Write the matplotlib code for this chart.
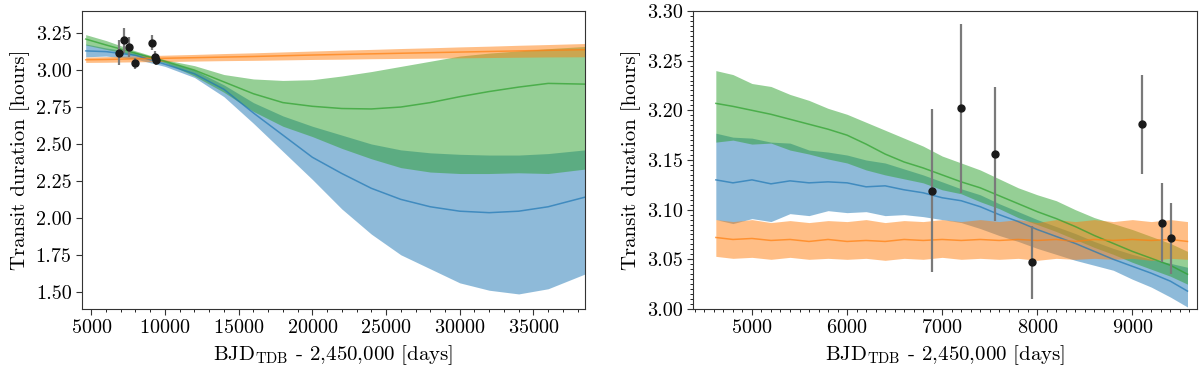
import matplotlib
matplotlib.use('Agg')
import matplotlib.pyplot as plt
from matplotlib.ticker import MultipleLocator

plt.rcParams['font.family'] = 'serif'
plt.rcParams['font.serif'] = ['cmr10']
plt.rcParams['mathtext.fontset'] = 'cm'
plt.rcParams['axes.formatter.use_mathtext'] = True

# observed transit durations
obs_t = [6895, 7200, 7560, 7950, 9105, 9316, 9410]
obs_d = [3.119, 3.202, 3.156, 3.047, 3.186, 3.087, 3.071]
obs_err = [0.082, 0.085, 0.067, 0.037, 0.050, 0.040, 0.036]

# long-term model predictions (left panel)
t_long = [4620, 6000, 8000, 10000, 12000, 14000, 16000, 18000, 20000,
          22000, 24000, 26000, 28000, 30000, 32000, 34000, 36000, 38500]
blue_long = [3.130, 3.125, 3.100, 3.040, 2.975, 2.870, 2.710, 2.560, 2.410,
             2.300, 2.200, 2.125, 2.075, 2.045, 2.035, 2.045, 2.075, 2.140]
blue_long_hi = [3.177, 3.150, 3.120, 3.060, 3.000, 2.900, 2.780, 2.690, 2.620,
                2.560, 2.500, 2.460, 2.440, 2.430, 2.425, 2.425, 2.435, 2.460]
blue_long_lo = [3.090, 3.095, 3.075, 3.025, 2.950, 2.820, 2.640, 2.450, 2.260,
                2.060, 1.890, 1.750, 1.655, 1.560, 1.510, 1.485, 1.520, 1.620]
green_long = [3.210, 3.170, 3.115, 3.060, 3.000, 2.920, 2.840, 2.780, 2.755,
              2.740, 2.737, 2.750, 2.780, 2.820, 2.855, 2.885, 2.910, 2.905]
green_long_hi = [3.240, 3.200, 3.130, 3.070, 3.030, 2.970, 2.940, 2.930, 2.935,
                 2.960, 2.990, 3.025, 3.060, 3.095, 3.115, 3.130, 3.145, 3.160]
green_long_lo = [3.170, 3.140, 3.100, 3.050, 2.960, 2.850, 2.720, 2.620, 2.550,
                 2.470, 2.400, 2.340, 2.310, 2.300, 2.300, 2.305, 2.300, 2.330]
orange_long = [3.070, 3.072, 3.076, 3.080, 3.084, 3.088, 3.092, 3.097, 3.102,
               3.106, 3.110, 3.114, 3.118, 3.122, 3.126, 3.130, 3.134, 3.138]
orange_long_hi = [3.088, 3.091, 3.096, 3.101, 3.106, 3.112, 3.117, 3.123, 3.129,
                  3.135, 3.140, 3.146, 3.151, 3.157, 3.162, 3.168, 3.173, 3.180]
orange_long_lo = [3.052, 3.053, 3.056, 3.058, 3.061, 3.064, 3.066, 3.069, 3.072,
                  3.074, 3.077, 3.079, 3.081, 3.083, 3.085, 3.087, 3.089, 3.090]

# zoom on the observed window (right panel)
t_short = [4620, 4800, 5000, 5200, 5400, 5600, 5800, 6000, 6200, 6400, 6600,
           6800, 7000, 7200, 7400, 7600, 7800, 8000, 8200, 8400, 8600, 8800,
           9000, 9200, 9400, 9580]
green_short = [3.207, 3.204, 3.200, 3.196, 3.191, 3.186, 3.181, 3.175, 3.166,
               3.156, 3.148, 3.142, 3.135, 3.128, 3.122, 3.114, 3.106, 3.098,
               3.091, 3.083, 3.074, 3.066, 3.058, 3.051, 3.044, 3.035]
green_short_hi = [3.240, 3.236, 3.227, 3.224, 3.216, 3.210, 3.202, 3.196, 3.188,
                  3.180, 3.172, 3.164, 3.154, 3.147, 3.140, 3.131, 3.122, 3.115,
                  3.109, 3.100, 3.092, 3.086, 3.080, 3.073, 3.066, 3.058]
green_short_lo = [3.168, 3.170, 3.166, 3.167, 3.160, 3.156, 3.151, 3.147, 3.140,
                  3.135, 3.131, 3.127, 3.120, 3.116, 3.108, 3.101, 3.092, 3.085,
                  3.078, 3.070, 3.062, 3.055, 3.047, 3.040, 3.033, 3.025]
blue_short = [3.130, 3.127, 3.130, 3.126, 3.129, 3.127, 3.128, 3.127, 3.123,
              3.124, 3.120, 3.117, 3.112, 3.109, 3.103, 3.095, 3.088, 3.080,
              3.073, 3.066, 3.058, 3.050, 3.043, 3.036, 3.028, 3.018]
blue_short_hi = [3.177, 3.173, 3.172, 3.168, 3.167, 3.160, 3.158, 3.155, 3.150,
                 3.147, 3.141, 3.135, 3.128, 3.121, 3.115, 3.106, 3.098, 3.090,
                 3.083, 3.076, 3.068, 3.061, 3.055, 3.050, 3.046, 3.042]
blue_short_lo = [3.090, 3.086, 3.091, 3.088, 3.096, 3.094, 3.099, 3.097, 3.098,
                 3.094, 3.095, 3.093, 3.090, 3.087, 3.081, 3.074, 3.068, 3.061,
                 3.055, 3.049, 3.044, 3.039, 3.030, 3.022, 3.012, 3.002]
orange_short = [3.072, 3.070, 3.071, 3.069, 3.070, 3.068, 3.070, 3.068, 3.069,
                3.068, 3.070, 3.069, 3.070, 3.069, 3.070, 3.069, 3.070, 3.069,
                3.070, 3.068, 3.070, 3.069, 3.070, 3.069, 3.070, 3.068]
orange_short_hi = [3.090, 3.088, 3.090, 3.087, 3.089, 3.087, 3.089, 3.088, 3.090,
                   3.087, 3.089, 3.088, 3.090, 3.088, 3.090, 3.088, 3.090, 3.087,
                   3.090, 3.088, 3.090, 3.088, 3.090, 3.088, 3.090, 3.088]
orange_short_lo = [3.053, 3.051, 3.052, 3.050, 3.052, 3.050, 3.051, 3.050, 3.051,
                   3.049, 3.051, 3.050, 3.052, 3.050, 3.051, 3.050, 3.051, 3.049,
                   3.051, 3.050, 3.051, 3.050, 3.051, 3.049, 3.051, 3.050]


def draw_models(ax, t, models):
    # blue first, then green, orange on top
    for mid, lo, hi, c in models:
        ax.fill_between(t, lo, hi, color=c, alpha=0.5, lw=0)
        ax.plot(t, mid, color=c, lw=1.1, alpha=0.7)
    ax.errorbar(obs_t, obs_d, yerr=obs_err, fmt='o', color='#1a1a1a',
                ecolor='#7a7a7a', elinewidth=1.6, markersize=5, zorder=5)


fig, (ax1, ax2) = plt.subplots(1, 2, figsize=(12, 3.7), dpi=100)

draw_models(ax1, t_long, [
    (blue_long, blue_long_lo, blue_long_hi, 'C0'),
    (green_long, green_long_lo, green_long_hi, 'C2'),
    (orange_long, orange_long_lo, orange_long_hi, 'C1'),
])
draw_models(ax2, t_short, [
    (blue_short, blue_short_lo, blue_short_hi, 'C0'),
    (green_short, green_short_lo, green_short_hi, 'C2'),
    (orange_short, orange_short_lo, orange_short_hi, 'C1'),
])

ax1.set_xlim(4370, 38500)
ax1.set_ylim(1.383, 3.40)
ax1.xaxis.set_major_locator(MultipleLocator(5000))
ax1.xaxis.set_minor_locator(MultipleLocator(1000))
ax1.yaxis.set_major_locator(MultipleLocator(0.25))

ax2.set_xlim(4380, 9680)
ax2.set_ylim(3.0, 3.3)
ax2.xaxis.set_major_locator(MultipleLocator(1000))
ax2.xaxis.set_minor_locator(MultipleLocator(100))
ax2.yaxis.set_major_locator(MultipleLocator(0.05))
ax2.yaxis.set_minor_locator(MultipleLocator(0.005))

for ax in (ax1, ax2):
    ax.set_xlabel(r'BJD$_{\mathrm{TDB}}$ - 2,450,000 [days]', fontsize=15)
    ax.set_ylabel('Transit duration [hours]', fontsize=15)
    ax.tick_params(labelsize=14.5, length=4, width=0.8, color='#333333')
    ax.tick_params(which='minor', length=2, width=0.6)
    ax.yaxis.set_major_formatter(plt.FormatStrFormatter('%.2f'))
    for s in ax.spines.values():
        s.set_color('#333333')

ax1.set_position([82 / 1200, 61 / 370, 503 / 1200, 298 / 370])
ax2.set_position([693 / 1200, 61 / 370, 504 / 1200, 298 / 370])

fig.savefig('out.png', dpi=100)
